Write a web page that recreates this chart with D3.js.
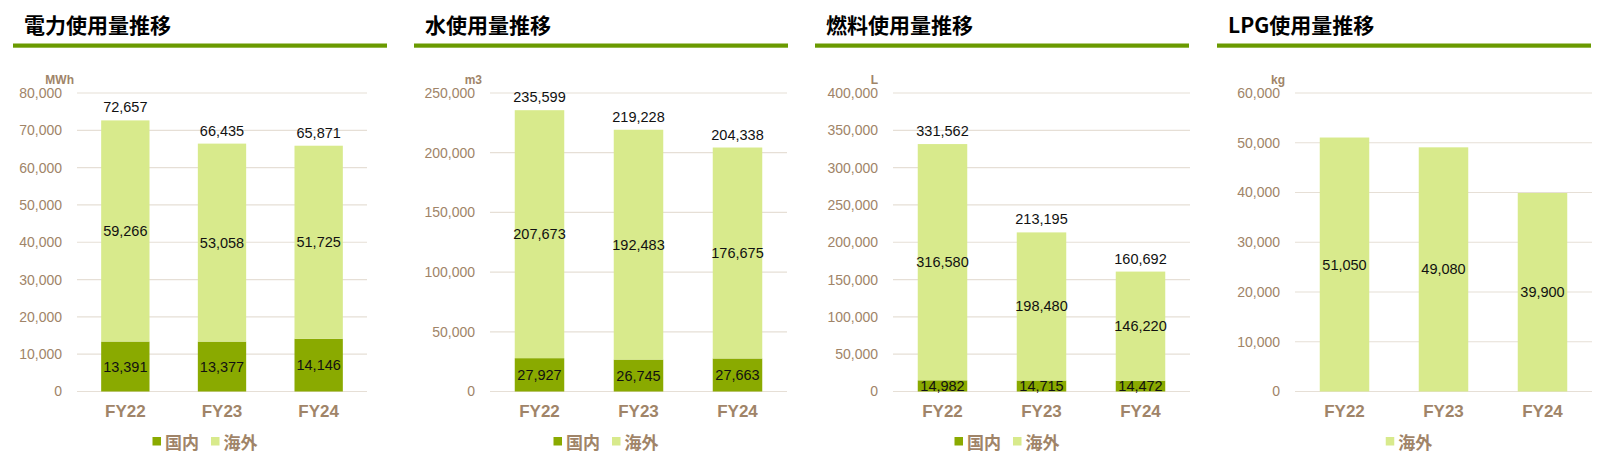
<!DOCTYPE html>
<html>
<head>
<meta charset="utf-8">
<script src="https://cdn.jsdelivr.net/npm/d3@7"></script>
<style>
  body { margin: 0; background: #fff; }
  svg text { font-family: "Liberation Sans", Arial, sans-serif; }
  .jp { font-family: "Noto Sans CJK JP", sans-serif !important; }
</style>
</head>
<body>
<svg id="chart" width="1610" height="466"></svg>
<script>
// 年度
const years = ["FY22", "FY23", "FY24"];

// 電力 (MWh)
const elecDomestic = [13391, 13377, 14146];
const elecOverseas = [59266, 53058, 51725];
const elecTotal = [72657, 66435, 65871];

// 水 (m3)
const waterDomestic = [27927, 26745, 27663];
const waterOverseas = [207673, 192483, 176675];
const waterTotal = [235599, 219228, 204338];

// 燃料 (L)
const fuelDomestic = [14982, 14715, 14472];
const fuelOverseas = [316580, 198480, 146220];
const fuelTotal = [331562, 213195, 160692];

// LPG (kg)
const lpgOverseas = [51050, 49080, 39900];

const seriesNames = ["国内", "海外"];
const titles = ["電力使用量推移", "水使用量推移", "燃料使用量推移", "LPG使用量推移"];
const units = ["MWh", "m3", "L", "kg"];
const yMaxes = [80000, 250000, 400000, 60000];
const yTicks = [10000, 50000, 50000, 10000];

const COLOR_DOM = "#8aaa00";
const COLOR_OVS = "#d8ea8c";
const COLOR_RULE = "#6a9a00";
const COLOR_AXIS = "#a08468";
const COLOR_GRID = "#e6dfd6";

const panels = [
  { dom: elecDomestic, ovs: elecOverseas, total: elecTotal },
  { dom: waterDomestic, ovs: waterOverseas, total: waterTotal },
  { dom: fuelDomestic, ovs: fuelOverseas, total: fuelTotal },
  { dom: null, ovs: lpgOverseas, total: null }
];

// パネル配置
const panelX = [13, 414, 815, 1217];
const panelW = 374;
const plotLeft = [64, 76, 78, 78];
const plotRight = [354, 373, 375, 375];
const unitOffset = [-3, -8, -15, -10];
const plotTop = 93, plotBottom = 391.5;

const svg = d3.select("#chart");
const fmt = d3.format(",");

panels.forEach((p, i) => {
  const g = svg.append("g").attr("transform", `translate(${panelX[i]},0)`);

  // タイトル
  g.append("text")
    .attr("class", "jp")
    .attr("x", 11)
    .attr("y", 24)
    .attr("dominant-baseline", "central")
    .style("font-size", "21px")
    .style("font-weight", "bold")
    .attr("fill", "#000")
    .text(titles[i]);

  g.append("rect")
    .attr("x", 0).attr("y", 43.5)
    .attr("width", panelW).attr("height", 4.2)
    .attr("fill", COLOR_RULE);

  const x = d3.scaleBand()
    .domain(years)
    .range([plotLeft[i], plotRight[i]])
    .paddingInner(0.5)
    .paddingOuter(0.25);

  const y = d3.scaleLinear()
    .domain([0, yMaxes[i]])
    .range([plotBottom, plotTop]);

  const ticks = d3.range(0, yMaxes[i] + 1, yTicks[i]);

  // グリッド線
  g.append("g").selectAll("line")
    .data(ticks)
    .enter().append("line")
    .attr("x1", plotLeft[i]).attr("x2", plotRight[i])
    .attr("y1", d => y(d)).attr("y2", d => y(d))
    .attr("stroke", COLOR_GRID)
    .attr("stroke-width", 1.2);

  // Y軸ラベル
  const yAxis = g.append("g")
    .attr("transform", `translate(${plotLeft[i] - 15},0)`)
    .call(d3.axisLeft(y).tickValues(ticks).tickFormat(fmt).tickSize(0).tickPadding(0));
  yAxis.select(".domain").remove();
  yAxis.selectAll("text")
    .attr("fill", COLOR_AXIS)
    .style("font-size", "14px")
    .style("font-family", "'Liberation Sans', Arial, sans-serif");

  // 単位
  g.append("text")
    .attr("x", plotLeft[i] + unitOffset[i])
    .attr("y", plotTop - 13)
    .attr("text-anchor", "end")
    .attr("dominant-baseline", "central")
    .attr("fill", COLOR_AXIS)
    .style("font-size", "12px")
    .style("font-weight", "bold")
    .text(units[i]);

  // X軸ラベル
  const xAxis = g.append("g")
    .attr("transform", `translate(0,${plotBottom})`)
    .call(d3.axisBottom(x).tickSize(0).tickPadding(9));
  xAxis.select(".domain").remove();
  xAxis.selectAll("text")
    .attr("fill", COLOR_AXIS)
    .attr("dy", "0.95em")
    .style("font-size", "17px")
    .style("font-weight", "bold")
    .style("font-family", "'Liberation Sans', Arial, sans-serif");

  // 積み上げデータ
  const rows = years.map((yr, k) => {
    const segs = [];
    let base = 0;
    if (p.dom) {
      segs.push({ year: yr, y0: base, y1: base + p.dom[k], v: p.dom[k], color: COLOR_DOM });
      base += p.dom[k];
    }
    segs.push({ year: yr, y0: base, y1: base + p.ovs[k], v: p.ovs[k], color: COLOR_OVS });
    return segs;
  });
  const segsFlat = rows.flat();

  g.append("g").selectAll("rect")
    .data(segsFlat)
    .enter().append("rect")
    .attr("x", d => x(d.year))
    .attr("width", x.bandwidth())
    .attr("y", d => y(d.y1))
    .attr("height", d => y(d.y0) - y(d.y1))
    .attr("fill", d => d.color);

  // 値ラベル
  g.append("g").selectAll("text")
    .data(segsFlat)
    .enter().append("text")
    .attr("x", d => x(d.year) + x.bandwidth() / 2)
    .attr("y", d => (y(d.y0) + y(d.y1)) / 2)
    .attr("text-anchor", "middle")
    .attr("dominant-baseline", "central")
    .attr("fill", "#111")
    .style("font-size", "14.5px")
    .text(d => fmt(d.v));

  if (p.total) {
    g.append("g").selectAll("text")
      .data(years.map((yr, k) => ({ year: yr, v: p.total[k], top: rows[k][rows[k].length - 1].y1 })))
      .enter().append("text")
      .attr("x", d => x(d.year) + x.bandwidth() / 2)
      .attr("y", d => y(d.top) - 13)
      .attr("text-anchor", "middle")
      .attr("dominant-baseline", "central")
      .attr("fill", "#111")
      .style("font-size", "14.5px")
      .text(d => fmt(d.v));
  }

  // 凡例
  const items = p.dom
    ? [{ name: seriesNames[0], color: COLOR_DOM }, { name: seriesNames[1], color: COLOR_OVS }]
    : [{ name: seriesNames[1], color: COLOR_OVS }];
  const legend = g.append("g");
  let cx = 0;
  items.forEach(it => {
    legend.append("rect")
      .attr("x", cx).attr("y", 437)
      .attr("width", 8.5).attr("height", 8.5)
      .attr("fill", it.color);
    const t = legend.append("text")
      .attr("class", "jp")
      .attr("x", cx + 12.5)
      .attr("y", 441)
      .attr("dominant-baseline", "central")
      .attr("fill", COLOR_AXIS)
      .style("font-size", "17px")
      .style("font-weight", "bold")
      .text(it.name);
    cx += 12.5 + t.node().getComputedTextLength() + 12;
  });
  const legendW = cx - 12;
  legend.attr("transform", `translate(${panelW / 2 + 5 - legendW / 2},0)`);
});
</script>
</body>
</html>
